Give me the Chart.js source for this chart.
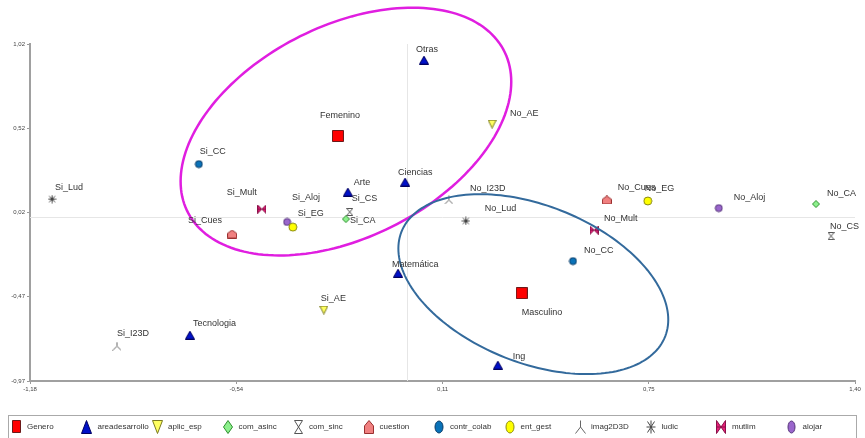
<!DOCTYPE html>
<html>
<head>
<meta charset="utf-8">
<script src="https://cdn.jsdelivr.net/npm/chart.js@4.4.0/dist/chart.umd.min.js"></script>
<style>
  html, body { margin: 0; padding: 0; background: #fff; }
</style>
</head>
<body>
<canvas id="myChart" width="865" height="438"></canvas>
<script>
// axis ticks
const xTicks = [-1.18, -0.535, 0.11, 0.755, 1.40];
const xTickLabels = ['-1,18', '-0,54', '0,11', '0,75', '1,40'];
const yTicks = [-0.97, -0.4725, 0.025, 0.5225, 1.02];
const yTickLabels = ['-0,97', '-0,47', '0,02', '0,52', '1,02'];

// categories and coordinates
const generoNames = ['Femenino', 'Masculino'];
const generoX = [-0.217, 0.358];
const generoY = [0.477, -0.451];

const areaNames = ['Otras', 'Ciencias', 'Arte', 'Matemática', 'Tecnologia', 'Ing'];
const areaX = [0.052, -0.007, -0.186, -0.029, -0.680, 0.283];
const areaY = [0.925, 0.205, 0.146, -0.333, -0.699, -0.876];

const aplicNames = ['No_AE', 'Si_AE'];
const aplicX = [0.265, -0.261];
const aplicY = [0.547, -0.551];

const asincNames = ['Si_CA', 'No_CA'];
const asincX = [-0.192, 1.278];
const asincY = [-0.014, 0.075];

const sincNames = ['Si_CS', 'No_CS'];
const sincX = [-0.180, 1.325];
const sincY = [0.028, -0.114];

const cuesNames = ['Si_Cues', 'No_Cues'];
const cuesX = [-0.548, 0.624];
const cuesY = [-0.102, 0.099];

const colabNames = ['Si_CC', 'No_CC'];
const colabX = [-0.652, 0.518];
const colabY = [0.311, -0.262];

const gestNames = ['Si_EG', 'No_EG'];
const gestX = [-0.358, 0.752];
const gestY = [-0.061, 0.093];

const imagNames = ['Si_I23D', 'No_I23D'];
const imagX = [-0.908, 0.130];
const imagY = [-0.764, 0.099];

const ludicNames = ['Si_Lud', 'No_Lud'];
const ludicX = [-1.111, 0.183];
const ludicY = [0.104, -0.025];

const multNames = ['Si_Mult', 'No_Mult'];
const multX = [-0.455, 0.584];
const multY = [0.045, -0.079];

const alojNames = ['Si_Aloj', 'No_Aloj'];
const alojX = [-0.376, 0.974];
const alojY = [-0.031, 0.051];

// the two group ellipses (centre + two half axes, in data units)
const ellipseFem = { cx: -0.192, cy: 0.503, ux: 0.517, uy: 0.294, vx: 0, vy: -0.670 };
const ellipseMasc = { cx: 0.394, cy: -0.398, ux: 0.422, uy: -0.210, vx: 0, vy: -0.488 };

// label placement, pixels from the marker
const labelOffsets = {
  Femenino: [-18, -20], Masculino: [0, 19], Otras: [-8, -11], Ciencias: [-7, -10],
  Arte: [6, -9], 'Matemática': [-6, -9], Tecnologia: [3, -12], Ing: [15, -9],
  No_AE: [18, -11], Si_AE: [-3, -12], Si_CA: [4, 1], No_CA: [11, -11],
  Si_CS: [2, -13], No_CS: [-1, -10], Si_Cues: [-44, -13], No_Cues: [11, -12],
  No_EG: [-3, -12], Si_CC: [1, -13], No_CC: [11, -11], Si_EG: [5, -14],
  Si_Aloj: [5, -24], Si_I23D: [0, -13], No_I23D: [21, -11], Si_Lud: [3, -12],
  No_Lud: [19, -12], Si_Mult: [-35, -17], No_Mult: [10, -12], No_Aloj: [15, -11]
};

function marker(kind, w, h) {
  const c = document.createElement('canvas');
  c.width = w; c.height = h;
  const g = c.getContext('2d');
  const m = 0.5;
  g.lineWidth = 1;
  function poly(pts, fill, stroke) {
    g.beginPath();
    pts.forEach((p, i) => i ? g.lineTo(p[0], p[1]) : g.moveTo(p[0], p[1]));
    g.closePath();
    g.fillStyle = fill; g.fill();
    g.strokeStyle = stroke; g.stroke();
  }
  function oval(fill, stroke) {
    g.beginPath();
    g.ellipse(w / 2, h / 2, w / 2 - 1, h / 2 - 1, 0, 0, Math.PI * 2);
    g.fillStyle = fill; g.fill();
    g.strokeStyle = stroke; g.stroke();
  }
  function lines(segs, stroke) {
    g.beginPath();
    segs.forEach(s => { g.moveTo(s[0], s[1]); g.lineTo(s[2], s[3]); });
    g.strokeStyle = stroke; g.stroke();
  }
  switch (kind) {
    case 'square': poly([[m, m], [w - m, m], [w - m, h - m], [m, h - m]], '#ff0000', '#6b1a1a'); break;
    case 'tri': poly([[w / 2, m], [w - m, h - m], [m, h - m]], '#0010c8', '#000060'); break;
    case 'triDown': poly([[m, m], [w - m, m], [w / 2, h - m]], '#ffff60', '#7a7a20'); break;
    case 'diamond': poly([[w / 2, m], [w - m, h / 2], [w / 2, h - m], [m, h / 2]], '#8cf08c', '#2f8f2f'); break;
    case 'hourglass': lines([[m, m, w - m, m], [m, h - m, w - m, h - m], [m, m, w - m, h - m], [w - m, m, m, h - m]], '#555'); break;
    case 'house': poly([[w / 2, m], [w - m, h * 0.42], [w - m, h - m], [m, h - m], [m, h * 0.42]], '#f08080', '#9a3030'); break;
    case 'blue': oval('#0a72b8', '#083a66'); break;
    case 'yellow': oval('#ffff00', '#8a8a10'); break;
    case 'lambda': lines([[w / 2, m, w / 2, h * 0.5], [w / 2, h * 0.5, m, h - m], [w / 2, h * 0.5, w - m, h - m]], '#666'); break;
    case 'star': lines([[w / 2, m, w / 2, h - m], [m, h / 2, w - m, h / 2], [m + 1, m + 1, w - m - 1, h - m - 1], [w - m - 1, m + 1, m + 1, h - m - 1]], '#444'); break;
    case 'bowtie': poly([[m, m], [w / 2, h / 2], [m, h - m]], '#e8207a', '#8a1048');
                   poly([[w - m, m], [w / 2, h / 2], [w - m, h - m]], '#e8207a', '#8a1048');
                   lines([[m, h / 2, w - m, h / 2]], '#8a1048'); break;
    case 'purple': oval('#9a66cc', '#55337a'); break;
  }
  return c;
}

const groups = [
  { label: 'Genero', names: generoNames, xs: generoX, ys: generoY, kind: 'square', size: [12, 12], leg: [9, 13] },
  { label: 'areadesarrollo', names: areaNames, xs: areaX, ys: areaY, kind: 'tri', size: [10, 9], leg: [11, 14] },
  { label: 'aplic_esp', names: aplicNames, xs: aplicX, ys: aplicY, kind: 'triDown', size: [9, 9], leg: [11, 14] },
  { label: 'com_asinc', names: asincNames, xs: asincX, ys: asincY, kind: 'diamond', size: [8, 8], leg: [10, 14] },
  { label: 'com_sinc', names: sincNames, xs: sincX, ys: sincY, kind: 'hourglass', size: [7, 8], leg: [9, 14] },
  { label: 'cuestion', names: cuesNames, xs: cuesX, ys: cuesY, kind: 'house', size: [10, 9], leg: [10, 14] },
  { label: 'contr_colab', names: colabNames, xs: colabX, ys: colabY, kind: 'blue', size: [9, 9], leg: [10, 14] },
  { label: 'ent_gest', names: gestNames, xs: gestX, ys: gestY, kind: 'yellow', size: [10, 10], leg: [10, 14] },
  { label: 'imag2D3D', names: imagNames, xs: imagX, ys: imagY, kind: 'lambda', size: [9, 9], leg: [11, 14] },
  { label: 'ludic', names: ludicNames, xs: ludicX, ys: ludicY, kind: 'star', size: [9, 9], leg: [10, 14] },
  { label: 'mutlim', names: multNames, xs: multX, ys: multY, kind: 'bowtie', size: [9, 9], leg: [10, 14] },
  { label: 'alojar', names: alojNames, xs: alojX, ys: alojY, kind: 'purple', size: [9, 9], leg: [9, 14] }
];

const datasets = groups.map(gr => ({
  label: gr.label,
  names: gr.names,
  data: gr.names.map((n, i) => ({ x: gr.xs[i], y: gr.ys[i] })),
  pointStyle: marker(gr.kind, gr.size[0], gr.size[1]),
  legendMarker: marker(gr.kind, gr.leg[0], gr.leg[1]),
  pointRadius: 5,
  showLine: false
}));

const zeroLines = {
  id: 'zeroLines',
  beforeDatasetsDraw(chart) {
    const { ctx, chartArea: a, scales: { x, y } } = chart;
    ctx.save();
    ctx.strokeStyle = '#e6e6e6';
    ctx.lineWidth = 1;
    ctx.beginPath();
    const px = Math.round(x.getPixelForValue(0)) + 0.5;
    const py = Math.round(y.getPixelForValue(0)) + 0.5;
    ctx.moveTo(px, a.top); ctx.lineTo(px, a.bottom);
    ctx.moveTo(a.left, py); ctx.lineTo(a.right, py);
    ctx.stroke();
    ctx.restore();
  }
};

const ellipses = {
  id: 'ellipses',
  afterDatasetsDraw(chart) {
    const { ctx, scales: { x, y } } = chart;
    const draw = (e, color, width) => {
      ctx.save();
      ctx.strokeStyle = color;
      ctx.lineWidth = width;
      ctx.beginPath();
      for (let k = 0; k <= 180; k++) {
        const t = k / 180 * Math.PI * 2;
        const vx = e.cx + e.ux * Math.cos(t) + e.vx * Math.sin(t);
        const vy = e.cy + e.uy * Math.cos(t) + e.vy * Math.sin(t);
        const px = x.getPixelForValue(vx), py = y.getPixelForValue(vy);
        k ? ctx.lineTo(px, py) : ctx.moveTo(px, py);
      }
      ctx.closePath();
      ctx.stroke();
      ctx.restore();
    };
    draw(ellipseFem, '#e01ee0', 2.5);
    draw(ellipseMasc, '#336a9c', 2);
  }
};

const pointLabels = {
  id: 'pointLabels',
  afterDatasetsDraw(chart) {
    const { ctx } = chart;
    ctx.save();
    ctx.font = '9px "Liberation Sans", Arial, sans-serif';
    ctx.fillStyle = '#333';
    ctx.textAlign = 'left';
    ctx.textBaseline = 'middle';
    chart.data.datasets.forEach((ds, di) => {
      chart.getDatasetMeta(di).data.forEach((el, i) => {
        const name = ds.names[i];
        const off = labelOffsets[name] || [4, -10];
        ctx.fillText(name, el.x + off[0], el.y + off[1]);
      });
    });
    ctx.restore();
  }
};

const boxLegend = {
  id: 'boxLegend',
  afterDraw(chart) {
    const { ctx } = chart;
    ctx.save();
    ctx.strokeStyle = '#aaa';
    ctx.lineWidth = 1;
    ctx.strokeRect(8.5, 415.5, 848, 24);
    ctx.font = '8px "Liberation Sans", Arial, sans-serif';
    ctx.fillStyle = '#333';
    ctx.textAlign = 'left';
    ctx.textBaseline = 'middle';
    chart.data.datasets.forEach((ds, i) => {
      const cx = 16 + i * 70.5;
      const img = ds.legendMarker;
      ctx.drawImage(img, Math.round(cx - img.width / 2), 420);
      ctx.fillText(ds.label, cx + 11, 427);
    });
    ctx.restore();
  }
};

const axisTicks = (vals) => (scale) => { scale.ticks = vals.map(v => ({ value: v })); };

new Chart(document.getElementById('myChart'), {
  type: 'scatter',
  data: { datasets },
  options: {
    responsive: false,
    animation: false,
    events: [],
    layout: { padding: { left: 0, right: 10, top: 44, bottom: 39 } },
    plugins: { legend: { display: false }, tooltip: { enabled: false } },
    scales: {
      x: {
        type: 'linear', min: -1.18, max: 1.40,
        afterBuildTicks: axisTicks(xTicks),
        afterFit: s => { s.height = 18; },
        ticks: { callback: (v, i) => xTickLabels[i], font: { size: 6 }, color: '#444', padding: 2, maxRotation: 0, autoSkip: false },
        grid: { display: true, drawOnChartArea: false, drawTicks: true, tickLength: 3, color: '#999' },
        border: { display: true, color: '#a0a0a0', width: 2 }
      },
      y: {
        type: 'linear', min: -0.97, max: 1.02,
        afterBuildTicks: axisTicks(yTicks),
        afterFit: s => { s.width = 30; },
        ticks: { callback: (v, i) => yTickLabels[i], font: { size: 6 }, color: '#444', padding: 2, autoSkip: false },
        grid: { display: true, drawOnChartArea: false, drawTicks: true, tickLength: 3, color: '#999' },
        border: { display: true, color: '#a0a0a0', width: 2 }
      }
    }
  },
  plugins: [zeroLines, ellipses, pointLabels, boxLegend]
});
</script>
</body>
</html>
